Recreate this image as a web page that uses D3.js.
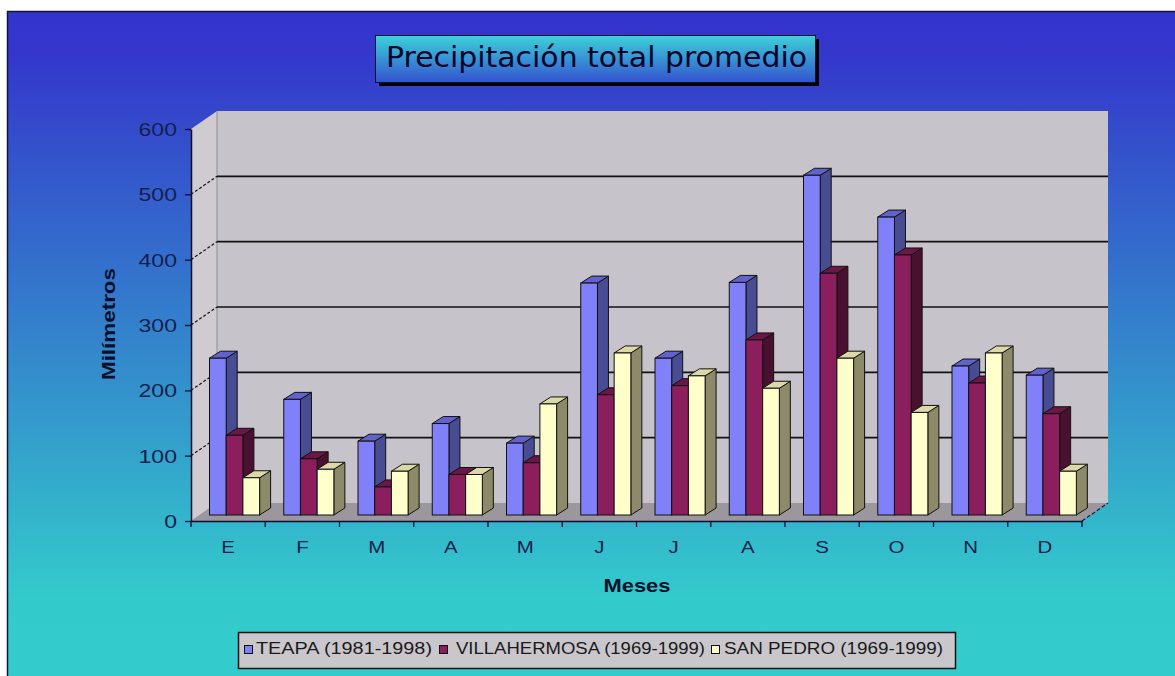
<!DOCTYPE html>
<html><head><meta charset="utf-8">
<script src="https://cdn.jsdelivr.net/npm/d3@7"></script>
<style>html,body{margin:0;padding:0;background:#fff;overflow:hidden}</style>
</head><body><svg id="c" width="1175" height="676"></svg>
<script>
// ---- data ----
const months = ["E","F","M","A","M","J","J","A","S","O","N","D"];
const seriesNames = ["TEAPA (1981-1998)","VILLAHERMOSA (1969-1999)","SAN PEDRO (1969-1999)"];
const teapa        = [240,177,113,140,110,355,240,356,520,456,228,214];
const villahermosa = [122, 86, 43, 62, 80,184,198,268,370,398,202,155];
const sanPedro     = [ 57, 70, 67, 62,170,248,213,194,240,157,248, 67];
const yTicks = [0,100,200,300,400,500,600];
const titleText = "Precipitación total promedio";
const xTitle = "Meses";
const yTitle = "Milímetros";

// ---- styles ----
const seriesValues = [teapa, villahermosa, sanPedro];
const frontC = ["#8080f8","#8b1f5e","#ffffcc"];
const topC   = ["#6262cc","#6a1646","#dcd8a8"];
const sideC  = ["#484c92","#4a1030","#8c8a68"];

const svg = d3.select("#c");
const defs = svg.append("defs");
const bg = defs.append("linearGradient").attr("id","bg").attr("gradientUnits","userSpaceOnUse")
  .attr("x1",0).attr("y1",11).attr("x2",0).attr("y2",676);
bg.append("stop").attr("offset","0%").attr("stop-color","#3434cc");
bg.append("stop").attr("offset","6%").attr("stop-color","#3436cc");
bg.append("stop").attr("offset","88%").attr("stop-color","#33cacc");
bg.append("stop").attr("offset","100%").attr("stop-color","#33cccc");
const tg = defs.append("linearGradient").attr("id","tg").attr("x1",0).attr("y1",0).attr("x2",0).attr("y2",1);
tg.append("stop").attr("offset","0%").attr("stop-color","#3cd2d8");
tg.append("stop").attr("offset","100%").attr("stop-color","#3452d0");

svg.append("rect").attr("x",7.5).attr("y",11.5).attr("width",1200).attr("height",700)
  .attr("fill","url(#bg)").attr("stroke","#15153a").attr("stroke-width",1.5);

// ---- geometry ----
const L = 191, R = 1082, WDX = 26, WDY = -18;
const y = d3.scaleLinear().domain([0,600]).range([521,129]);
const x = d3.scaleBand().domain(d3.range(months.length)).range([L,R]);
const sub = d3.scaleBand().domain([0,1,2]).range([18.5, 68.6]);
const BOFF = -6, BDX = 11, BDY = -7;

// left wall
svg.append("polygon").attr("points",[[L,y(600)],[L+WDX,y(600)+WDY],[L+WDX,y(0)+WDY],[L,y(0)]].join(" "))
  .attr("fill","#cfcbd1");
// back wall
svg.append("rect").attr("x",L+WDX).attr("y",y(600)+WDY).attr("width",R-L).attr("height",y(0)-y(600))
  .attr("fill","#c7c3cb");
svg.append("line").attr("x1",L+WDX).attr("x2",L+WDX).attr("y1",y(600)+WDY).attr("y2",y(0)+WDY)
  .attr("stroke","#8e8c92").attr("stroke-width",1);
// floor
svg.append("polygon").attr("points",[[L,y(0)],[L+WDX,y(0)+WDY],[R+WDX,y(0)+WDY],[R,y(0)]].join(" "))
  .attr("fill","#9b979d");
svg.append("line").attr("x1",R).attr("y1",y(0)).attr("x2",R+WDX).attr("y2",y(0)+WDY)
  .attr("stroke","#1a1a30").attr("stroke-width",1.2).attr("stroke-dasharray","4,2");

// gridlines on back wall + slanted on left wall
const gv = yTicks.filter(v=>v>0 && v<600);
svg.selectAll(".grid").data(gv).join("line").attr("class","grid")
  .attr("x1",L+WDX).attr("x2",R+WDX).attr("y1",d=>y(d)+WDY).attr("y2",d=>y(d)+WDY)
  .attr("stroke","#111").attr("stroke-width",1.6);
svg.selectAll(".slant").data(gv).join("line").attr("class","slant")
  .attr("x1",L).attr("y1",d=>y(d)).attr("x2",L+WDX).attr("y2",d=>y(d)+WDY)
  .attr("stroke","#111").attr("stroke-width",1.2).attr("stroke-dasharray","3,2");

// ---- bars ----
const bars = [];
months.forEach((m,i)=>{ seriesValues.forEach((vals,j)=>bars.push({i,j,v:vals[i]})); });
const bw = sub.bandwidth();
const g = svg.append("g");
bars.forEach(b=>{
  const xf = x(b.i) + sub(b.j), yt = y(b.v)+BOFF, yb = y(0)+BOFF;
  g.append("polygon").attr("points",[[xf+bw,yt],[xf+bw+BDX,yt+BDY],[xf+bw+BDX,yb+BDY],[xf+bw,yb]].join(" "))
    .attr("fill",sideC[b.j]).attr("stroke","#111").attr("stroke-width",1).attr("stroke-linejoin","round");
  g.append("polygon").attr("points",[[xf,yt],[xf+BDX,yt+BDY],[xf+bw+BDX,yt+BDY],[xf+bw,yt]].join(" "))
    .attr("fill",topC[b.j]).attr("stroke","#111").attr("stroke-width",1).attr("stroke-linejoin","round");
  g.append("rect").attr("x",xf).attr("y",yt).attr("width",bw).attr("height",yb-yt)
    .attr("fill",frontC[b.j]).attr("stroke","#111").attr("stroke-width",1);
});

// ---- axes ----
function stretch(sel, f){ sel.each(function(){ const w=this.getComputedTextLength(); d3.select(this).attr("textLength",w*f).attr("lengthAdjust","spacingAndGlyphs"); }); }

const ya = svg.append("g").attr("transform",`translate(${L},0)`)
  .call(d3.axisLeft(y).tickValues(yTicks).tickSize(6).tickSizeOuter(0).tickPadding(8));
ya.select(".domain").attr("stroke","#0c0c30").attr("stroke-width",1.5);
ya.selectAll(".tick line").attr("stroke","#0c0c30").attr("stroke-width",1.3);
ya.selectAll("text").attr("font-family","Liberation Sans, Arial, sans-serif").attr("font-size",18)
  .attr("fill","#14204c").attr("dy","0.36em");
stretch(ya.selectAll("text"),1.28);

const xa = svg.append("g").attr("transform",`translate(0,${y(0)})`)
  .call(d3.axisBottom(x).tickFormat(i=>months[i]).tickSize(0).tickSizeOuter(0).tickPadding(20));
xa.select(".domain").attr("stroke","#0c0c30").attr("stroke-width",1.5);
xa.selectAll("text").attr("font-family","Liberation Sans, Arial, sans-serif").attr("font-size",17)
  .attr("fill","#14204c");
stretch(xa.selectAll("text"),1.2);
const bounds = d3.range(months.length+1).map(k=> k<months.length ? x(k) : R);
svg.selectAll(".xt").data(bounds).join("line").attr("class","xt")
  .attr("x1",d=>d).attr("x2",d=>d).attr("y1",y(0)).attr("y2",y(0)+6)
  .attr("stroke","#0c0c30").attr("stroke-width",1.3);

// axis titles
const xt = svg.append("text").attr("x",637).attr("y",592).attr("text-anchor","middle")
  .attr("font-family","Liberation Sans, Arial, sans-serif").attr("font-weight","bold").attr("font-size",19)
  .attr("fill","#0a0f2a").text(xTitle);
xt.attr("textLength",67).attr("lengthAdjust","spacingAndGlyphs");
const yt = svg.append("text").attr("transform","translate(115,324) rotate(-90)").attr("text-anchor","middle")
  .attr("font-family","Liberation Sans, Arial, sans-serif").attr("font-weight","bold").attr("font-size",19)
  .attr("fill","#0a0f2a").text(yTitle);
yt.attr("textLength",112).attr("lengthAdjust","spacingAndGlyphs");

// ---- title ----
svg.append("rect").attr("x",379).attr("y",39).attr("width",440).attr("height",47).attr("fill","#000");
svg.append("rect").attr("x",375.5).attr("y",35.5).attr("width",440).attr("height",47)
  .attr("fill","url(#tg)").attr("stroke","#101030").attr("stroke-width",1);
svg.append("text").attr("x",596.5).attr("y",67).attr("text-anchor","middle")
  .attr("font-family","DejaVu Sans, Verdana, sans-serif").attr("font-size",28).attr("fill","#00052a")
  .attr("textLength",421).attr("lengthAdjust","spacingAndGlyphs").text(titleText);

// ---- legend ----
svg.append("rect").attr("x",238.5).attr("y",632.5).attr("width",717).attr("height",36)
  .attr("fill","#c9c6cc").attr("stroke","#111").attr("stroke-width",1.5);
const legSq = [244, 439, 711];
const legTx = [256, 456, 724];
const legW  = [176, 249, 219];
seriesNames.forEach((n,j)=>{
  svg.append("rect").attr("x",legSq[j]+0.5).attr("y",645.5).attr("width",8).attr("height",8)
    .attr("fill",frontC[j]).attr("stroke","#111").attr("stroke-width",1);
  svg.append("text").attr("x",legTx[j]).attr("y",654)
    .attr("font-family","Liberation Sans, Arial, sans-serif").attr("font-size",16).attr("fill","#1a1a1a")
    .attr("textLength",legW[j]).attr("lengthAdjust","spacingAndGlyphs").text(n);
});
</script></body></html>
